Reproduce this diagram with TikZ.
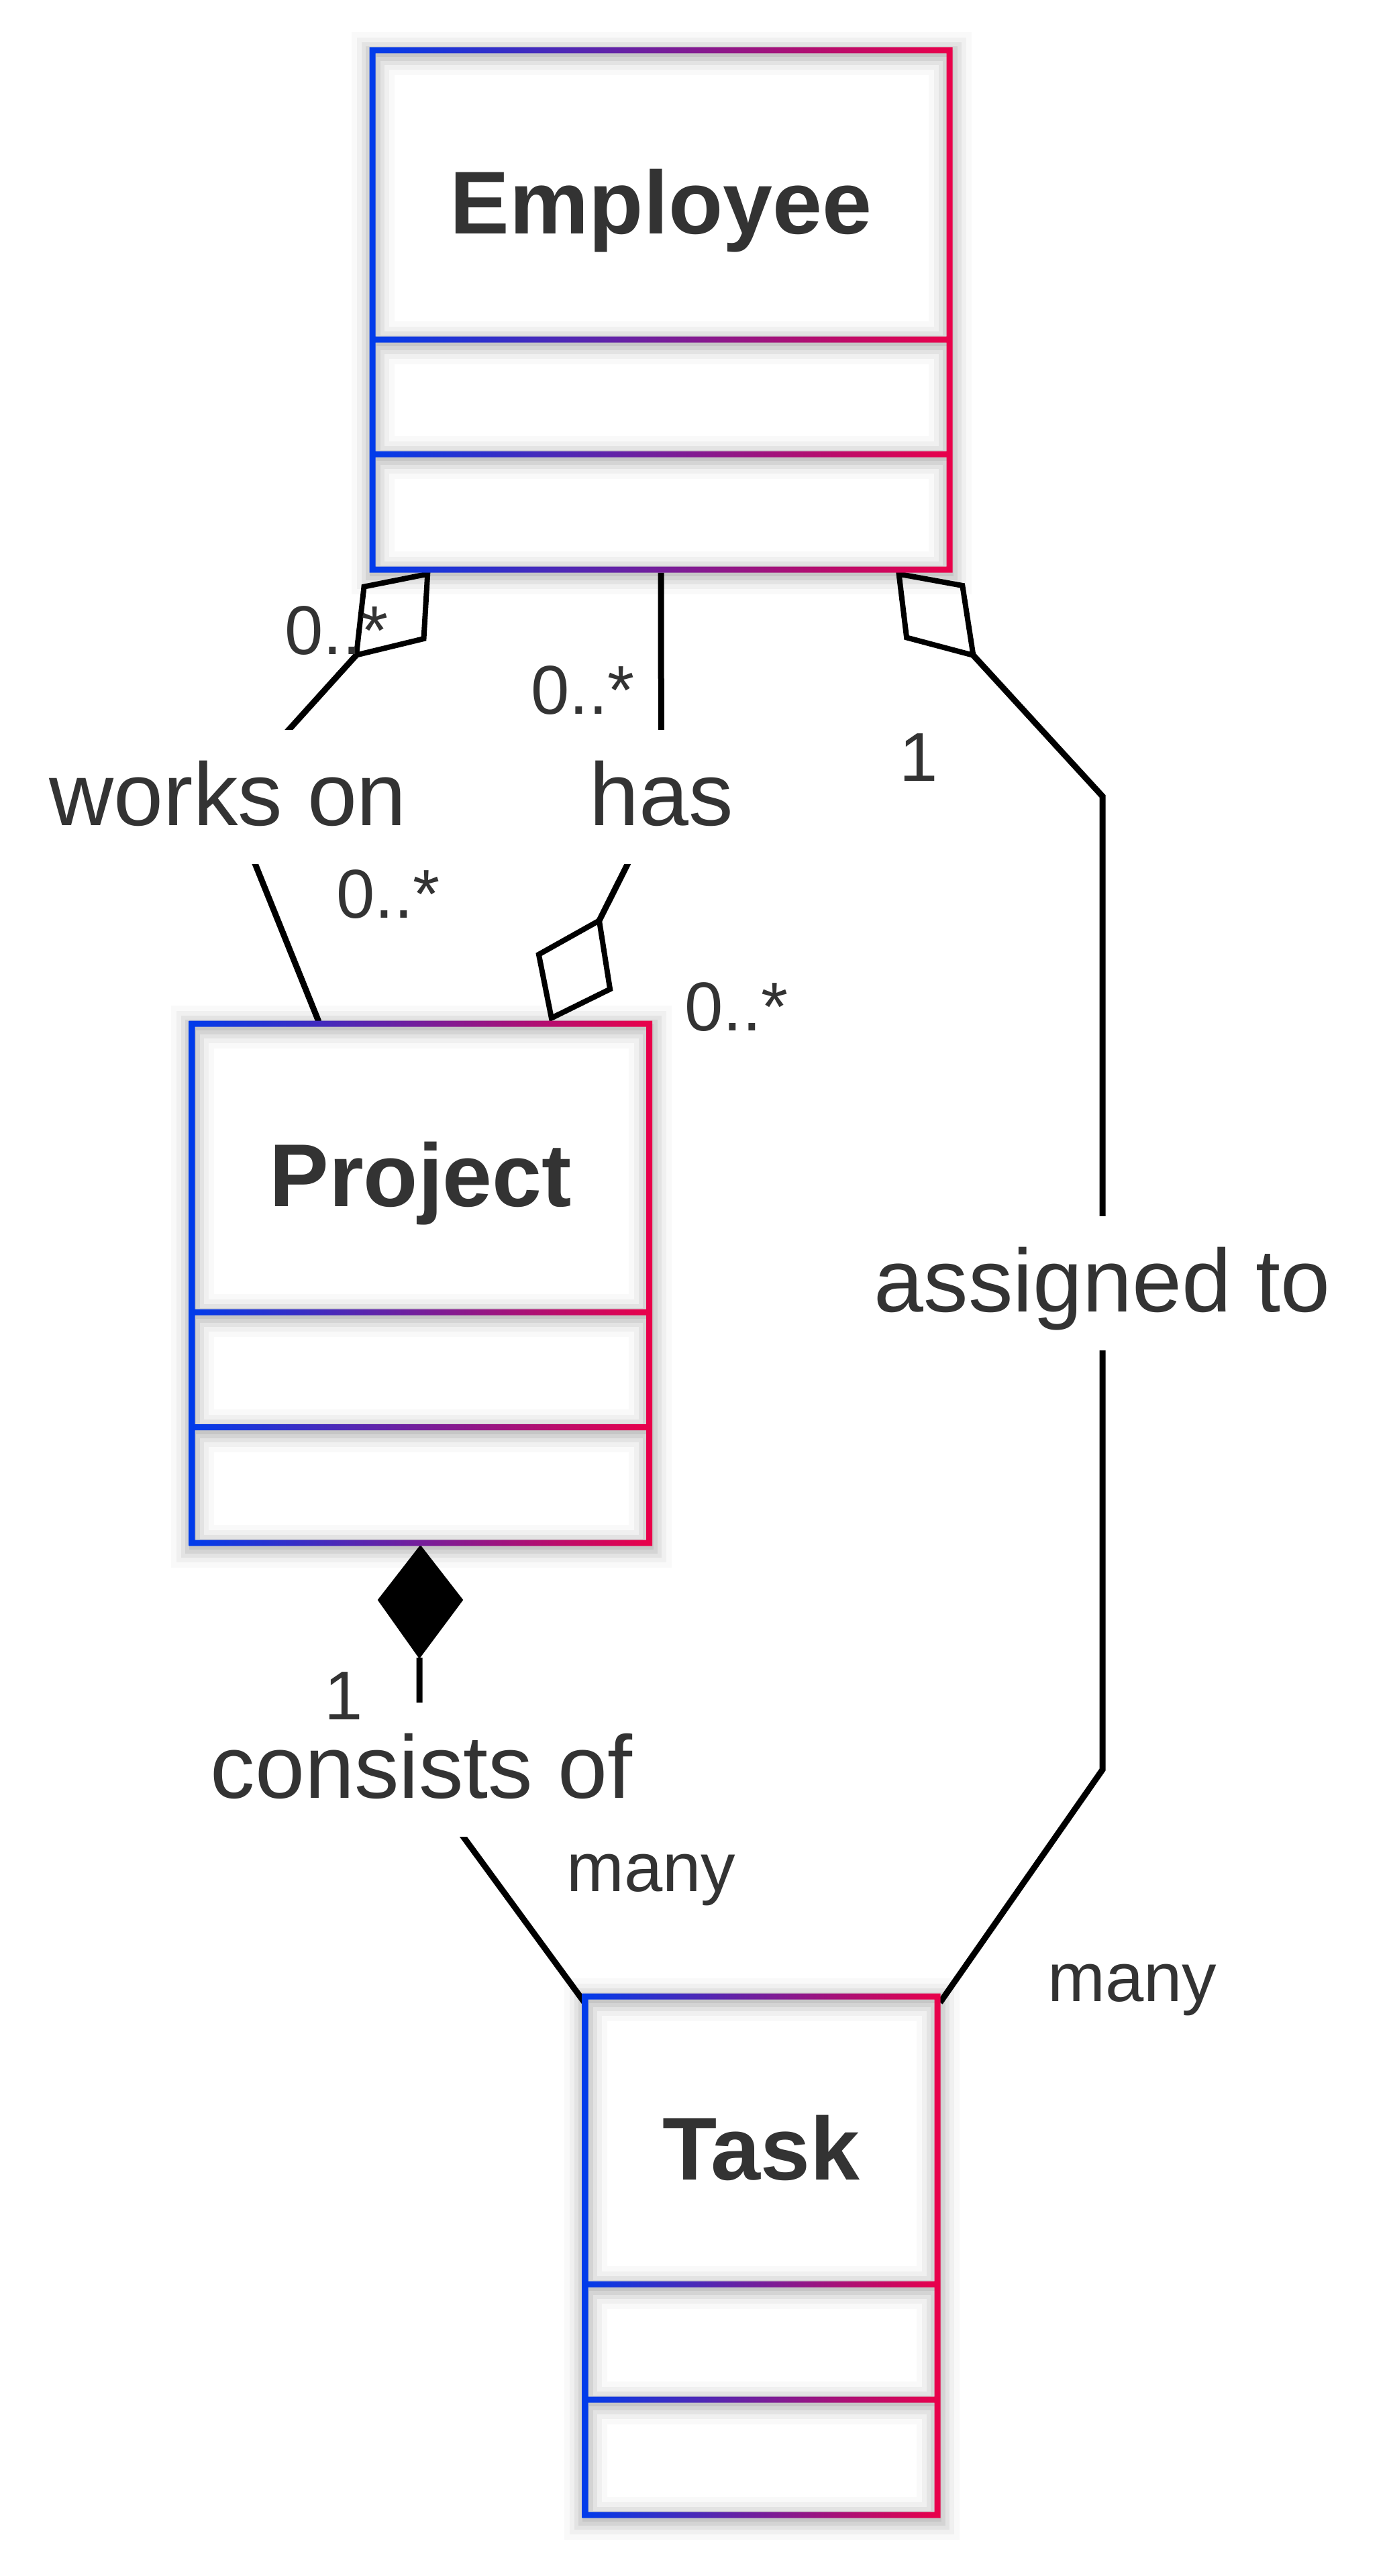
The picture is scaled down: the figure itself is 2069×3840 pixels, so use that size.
\documentclass[tikz,border=0pt]{standalone}
\usepackage{fontspec}
\setmainfont{Liberation Sans}
\usetikzlibrary{fit}
\definecolor{cblue}{RGB}{0,60,235}
\definecolor{cred}{RGB}{234,0,74}
\definecolor{txt}{HTML}{333333}
\pgfdeclarelayer{bglayer}
\pgfdeclarelayer{connlayer}
\pgfsetlayers{bglayer,connlayer,main}
\tikzset{
  classbox/.style={inner sep=0pt, draw=none},
  classtitle/.style={anchor=base, inner sep=0pt, text=txt, font=\bfseries\fontsize{133}{160}\selectfont},
  assoc/.style={draw=black, line width=9pt, line join=miter},
  odiam/.style={draw=black, line width=8pt, fill=white, line join=miter},
  fdiam/.style={draw=black, line width=2pt, fill=black, line join=miter},
  rel/.style={fill=white, inner xsep=6pt, inner ysep=0pt, text height=142.5pt, text depth=57.5pt, text=txt, font=\fontsize{133}{160}\selectfont},
  mult/.style={anchor=base west, inner sep=0pt, text=txt, font=\fontsize{103}{124}\selectfont}
}
% name, x0, y0, x1, y1, divider1, divider2, title baseline, title
\newcommand\umlclass[9]{%
  \node[classbox, fit={(#2,#3)(#4,#5)}] (#1) {};
  \fill[white] (#2,#3) rectangle (#4,#5);
  \foreach \w/\o in {10/0.07,22/0.06,34/0.05,48/0.035,64/0.025}{%
    \draw[line width=\w pt, draw opacity=\o, black, yshift=-5pt, xshift=1pt]
      (#2,#3) rectangle (#4,#6) (#2,#6) rectangle (#4,#7) (#2,#7) rectangle (#4,#5);
  }
  \path[left color=cblue, right color=cred, even odd rule]
    (#2-4.5,#3-4.5) rectangle (#4+4.5,#5+4.5)
    (#2+4.5,#3+4.5) rectangle (#4-4.5,#6-4.5)
    (#2+4.5,#6+4.5) rectangle (#4-4.5,#7-4.5)
    (#2+4.5,#7+4.5) rectangle (#4-4.5,#5-4.5);
  \node[classtitle] (#1title) at ({(#2+#4)/2},#8) {#9};
}
\begin{document}
\begin{tikzpicture}[x=1pt,y=-1pt]
\useasboundingbox (0,0) rectangle (2069,3840);
\begin{pgfonlayer}{bglayer}
  \fill[white] (0,0) rectangle (2069,3840);
\end{pgfonlayer}

% classes
\umlclass{emp}{555}{75}{1415}{849}{506}{677}{348}{Employee}
\umlclass{proj}{286}{1526}{967.5}{2300}{1956}{2127.5}{1798.5}{Project}
\umlclass{task}{872}{2976}{1397}{3749}{3405}{3577}{3249}{Task}

% relation labels
\node[rel] (wo) at (340,1188) {works on};
\node[rel] (has) at (985.5,1188) {has};
\node[rel] (asg) at (1643,1912.5) {assigned to};
\node[rel] (cons) at (628,2637.5) {consists of};

% connector points
\coordinate (woA) at (531,976.5);
\coordinate (woB) at (475,1523);
\coordinate (hasA) at (985,853.5);
\coordinate (hasB) at (893,1372.3);
\coordinate (asA) at (1450.4,976.8);
\coordinate (asK1) at (1643,1187);
\coordinate (asK2) at (1643,2638);
\coordinate (asB) at (1401,2985);
\coordinate (coA) at (625,2471);
\coordinate (coK) at (625,2580);
\coordinate (coM) at (617,2637.5);
\coordinate (coB) at (871,2985);

\begin{pgfonlayer}{connlayer}
  \draw[assoc] (woA) -- (wo.center) -- (woB);
  \draw[assoc] (hasA) -- (has.center) -- (hasB);
  \draw[assoc] (asA) -- (asK1) -- (asg.center) -- (asK2) -- (asB);
  \draw[assoc] (coA) -- (coK) -- (coM) -- (coB);
  % aggregation diamonds
  \draw[odiam] (637.2,855.7) -- (542.5,874.6) -- (woA) -- (631.5,952.1) -- cycle;
  \draw[odiam] (hasB) -- (802.9,1422.8) -- (821.8,1517.6) -- (909.1,1474.5) -- cycle;
  \draw[odiam] (1339.6,855.7) -- (1434.3,872.9) -- (asA) -- (1351.1,950.4) -- cycle;
  % composition diamond
  \draw[fdiam] (626.5,2304.5) -- (564,2385) -- (coA) -- (689,2385) -- cycle;
\end{pgfonlayer}

% multiplicities
\node[mult] (m1) at (424,975) {0..*};
\node[mult] (m2) at (501,1368) {0..*};
\node[mult] (m3) at (791,1064) {0..*};
\node[mult] (m4) at (1340,1164) {1};
\node[mult] (m5) at (1020,1536) {0..*};
\node[mult] (m6) at (483,2563) {1};
\node[mult] (m7) at (844,2819) {many};
\node[mult] (m8) at (1561,2983) {many};
\end{tikzpicture}
\end{document}
